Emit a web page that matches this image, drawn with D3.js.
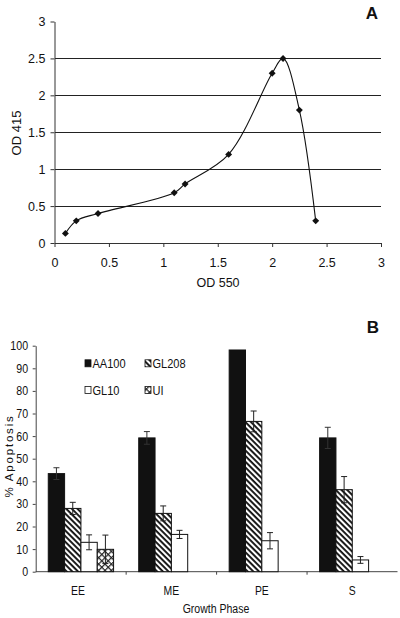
<!DOCTYPE html>
<html><head><meta charset="utf-8">
<script src="https://cdn.jsdelivr.net/npm/d3@7"></script>
<style>
html,body{margin:0;padding:0;background:#fff;}
svg{display:block;}
text{font-family:"Liberation Sans",Arial,sans-serif;fill:#111;}
</style></head>
<body>
<svg id="chart" width="400" height="618"></svg>
<script>
// Panel A data
const od550 = [0.1, 0.2, 0.4, 1.1, 1.2, 1.6, 2.0, 2.1, 2.25, 2.4];
const od415 = [0.13, 0.3, 0.4, 0.68, 0.8, 1.2, 2.3, 2.5, 1.8, 0.3];
const aTicks = [0, 0.5, 1, 1.5, 2, 2.5, 3];
const aTickLabels = ["0", "0.5", "1", "1.5", "2", "2.5", "3"];

// Panel B data
const phases = ["EE", "ME", "PE", "S"];
const strains = ["AA100", "GL208", "GL10", "UI"];
const aa100 = [43.4, 59.2, 98.1, 59.2];
const aa100Err = [2.6, 2.8, 0, 4.7];
const gl208 = [28.0, 25.8, 66.5, 36.3];
const gl208Err = [2.7, 3.3, 4.6, 5.8];
const gl10 = [13.0, 16.5, 13.7, 5.2];
const gl10Err = [3.3, 1.8, 3.6, 1.5];
const ui = [9.9, null, null, null];
const uiErr = [6.3, null, null, null];
const bTicks = [0, 10, 20, 30, 40, 50, 60, 70, 80, 90, 100];

const svg = d3.select("#chart");

// defs: patterns
const defs = svg.append("defs");
const hatch = defs.append("pattern").attr("id", "hatch").attr("patternUnits", "userSpaceOnUse")
  .attr("width", 4).attr("height", 4).attr("patternTransform", "rotate(45)");
hatch.append("rect").attr("width", 4).attr("height", 4).attr("fill", "#fff");
hatch.append("rect").attr("width", 4).attr("height", 1.9).attr("fill", "#111");
const cross = defs.append("pattern").attr("id", "cross").attr("patternUnits", "userSpaceOnUse")
  .attr("width", 4.5).attr("height", 4.5).attr("patternTransform", "rotate(45)");
cross.append("rect").attr("width", 4.5).attr("height", 4.5).attr("fill", "#fff");
cross.append("rect").attr("width", 4.5).attr("height", 1.2).attr("fill", "#222");
cross.append("rect").attr("width", 1.2).attr("height", 4.5).attr("fill", "#222");

// narrow text helper (panel B uses a condensed face)
function narrowText(g, x, y, s, txt, size, anchor) {
  return g.append("text").attr("transform", `translate(${x},${y}) scale(${s},1)`)
    .attr("text-anchor", anchor || "start").attr("font-size", size).text(txt);
}

// ---------- Panel A ----------
const gA = svg.append("g");
const xA = d3.scaleLinear().domain([0, 3]).range([54.5, 381]);
const yA = d3.scaleLinear().domain([0, 3]).range([243, 21.5]);

gA.selectAll("line.grid").data(aTicks.filter(t => t > 0 && t < 3)).enter().append("line")
  .attr("x1", xA(0)).attr("x2", xA(3)).attr("y1", d => yA(d)).attr("y2", d => yA(d))
  .attr("stroke", "#222").attr("stroke-width", 1).attr("shape-rendering", "crispEdges");

const axAy = gA.append("g").attr("transform", `translate(${xA(0)},0)`)
  .call(d3.axisLeft(yA).tickValues(aTicks).tickFormat((d, i) => aTickLabels[i]).tickSize(4).tickPadding(5).tickSizeOuter(0));
const axAx = gA.append("g").attr("transform", `translate(0,${yA(0)})`)
  .call(d3.axisBottom(xA).tickValues(aTicks).tickFormat((d, i) => aTickLabels[i]).tickSize(4).tickPadding(11).tickSizeOuter(0));
[axAy, axAx].forEach(ax => {
  ax.selectAll("text").attr("font-size", 12.5).attr("font-family", "Liberation Sans, Arial, sans-serif").attr("fill", "#111");
  ax.selectAll("line,path").attr("stroke", "#333");
});

const ptsA = od550.map((x, i) => [x, od415[i]]);
gA.append("path").datum(ptsA)
  .attr("d", d3.line().x(d => xA(d[0])).y(d => yA(d[1])).curve(d3.curveCatmullRom.alpha(0.5)))
  .attr("fill", "none").attr("stroke", "#111").attr("stroke-width", 1.1);
gA.selectAll("path.mk").data(ptsA).enter().append("path")
  .attr("d", d3.symbol(d3.symbolSquare, 24)())
  .attr("transform", d => `translate(${xA(d[0])},${yA(d[1])}) rotate(45)`)
  .attr("fill", "#111");

gA.append("text").attr("x", 218).attr("y", 287).attr("text-anchor", "middle").attr("font-size", 12.5).text("OD 550");
gA.append("text").attr("transform", "translate(21,133) rotate(-90)").attr("text-anchor", "middle").attr("font-size", 13).text("OD 415");
gA.append("text").attr("x", 378).attr("y", 19).attr("text-anchor", "end").attr("font-size", 17).attr("font-weight", "bold").text("A");

// ---------- Panel B ----------
const gB = svg.append("g");
const x0 = d3.scaleBand().domain(phases).range([35.7, 397.5]).paddingInner(0.278).paddingOuter(0.139);
const x1 = d3.scaleBand().domain(strains).range([0, x0.bandwidth()]);
const yB = d3.scaleLinear().domain([0, 100]).range([571.7, 345.7]);
const fills = { AA100: "#111", GL208: "url(#hatch)", GL10: "#fff", UI: "url(#cross)" };
const vals = { AA100: aa100, GL208: gl208, GL10: gl10, UI: ui };
const errs = { AA100: aa100Err, GL208: gl208Err, GL10: gl10Err, UI: uiErr };

const axBy = gB.append("g").attr("transform", `translate(35.7,0)`)
  .call(d3.axisLeft(yB).tickValues(bTicks).tickSize(3).tickPadding(6).tickSizeOuter(0));
axBy.selectAll("text").attr("font-size", 12.5).attr("fill", "#111").attr("transform", "scale(0.85,1)");
axBy.selectAll("line,path").attr("stroke", "#444");

gB.append("line").attr("x1", 35.7).attr("x2", 397.5).attr("y1", yB(0)).attr("y2", yB(0)).attr("stroke", "#444");
const bounds = phases.slice(1).map(p => x0(p) - x0.step() * x0.paddingOuter());
gB.selectAll("line.bt").data(bounds).enter().append("line")
  .attr("x1", d => d).attr("x2", d => d).attr("y1", yB(0)).attr("y2", yB(0) + 3).attr("stroke", "#444");
phases.forEach(p => narrowText(gB, x0(p) + x0.bandwidth() / 2 - (p === "EE" ? 3 : 0), 594.5, 0.8, p, 13, "middle"));

const bars = [];
phases.forEach((p, i) => strains.forEach(s => {
  if (vals[s][i] != null) bars.push({ p, s, v: vals[s][i], e: errs[s][i] });
}));
gB.selectAll("rect.bar").data(bars).enter().append("rect")
  .attr("x", d => x0(d.p) + x1(d.s)).attr("width", x1.bandwidth())
  .attr("y", d => yB(d.v)).attr("height", d => yB(0) - yB(d.v))
  .attr("fill", d => fills[d.s]).attr("stroke", "#111").attr("stroke-width", 1);

const cx = d => x0(d.p) + x1(d.s) + x1.bandwidth() / 2;
const eb = bars.filter(d => d.e > 0);
const ebG = gB.selectAll("g.eb").data(eb).enter().append("g")
  .attr("stroke", d => d.s === "AA100" ? "#333" : "#222").attr("stroke-width", 1);
ebG.append("line").attr("x1", cx).attr("x2", cx).attr("y1", d => yB(d.v - d.e)).attr("y2", d => yB(d.v + d.e));
ebG.append("line").attr("x1", d => cx(d) - 3).attr("x2", d => cx(d) + 3).attr("y1", d => yB(d.v + d.e)).attr("y2", d => yB(d.v + d.e));
ebG.append("line").attr("x1", d => cx(d) - 3).attr("x2", d => cx(d) + 3).attr("y1", d => yB(d.v - d.e)).attr("y2", d => yB(d.v - d.e));

// legend
const legPos = [[85, 363.3], [145, 363.3], [85, 390], [145, 390]];
strains.forEach((s, i) => {
  const [lx, ly] = legPos[i];
  gB.append("rect").attr("x", lx).attr("y", ly - 3.5).attr("width", 6).attr("height", 7)
    .attr("fill", fills[s]).attr("stroke", "#111").attr("stroke-width", 0.8);
  narrowText(gB, lx + 7.5, ly + 4.8, 0.85, s, 13, "start");
});

narrowText(gB, 216, 612.5, 0.78, "Growth Phase", 13.5, "middle");
gB.append("text").attr("transform", "translate(12.5,456) rotate(-90)").attr("text-anchor", "middle")
  .attr("font-size", 11.5).attr("letter-spacing", 1.8).text("% Apoptosis");
gB.append("text").attr("x", 379).attr("y", 333).attr("text-anchor", "end").attr("font-size", 17).attr("font-weight", "bold").text("B");
</script>
</body></html>
